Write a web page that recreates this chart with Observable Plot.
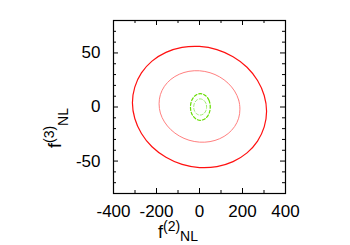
<!DOCTYPE html>
<html><head><meta charset="utf-8">
<script src="https://cdn.jsdelivr.net/npm/d3@7"></script>
<script src="https://cdn.jsdelivr.net/npm/@observablehq/plot@0.6"></script>
<style>body{margin:0;background:#fff;}</style>
</head><body><div id="chart"></div>
<script>
// Contour points (x = f(2)_NL, y = f(3)_NL)
const outerRedX = [312, 301, 270, 221, 156, 81, 0, -81, -156, -221, -270, -301, -312, -301, -270, -221, -156, -81, 0, 81, 156, 221, 270, 301];
const outerRedY = [-4, 10.6, 24.5, 36.8, 46.5, 53.1, 56, 55.1, 50.5, 42.4, 31.5, 18.4, 4, -10.6, -24.5, -36.8, -46.5, -53.1, -56, -55.1, -50.5, -42.4, -31.5, -18.4];
const innerRedX = [188, 182, 163, 133, 94, 49, 0, -49, -94, -133, -163, -182, -188, -182, -163, -133, -94, -49, 0, 49, 94, 133, 163, 182];
const innerRedY = [-2, 6.6, 14.8, 22, 27.8, 31.7, 33.5, 33, 30.3, 25.6, 19.2, 11.4, 3, -5.6, -13.8, -21, -26.8, -30.7, -32.5, -32, -29.3, -24.6, -18.2, -10.4];
const outerGreenX = [50, 44, 27, 4, -19, -36, -42, -36, -19, 4, 27, 44];
const outerGreenY = [0, 6.2, 10.7, 12.3, 10.7, 6.2, 0, -6.2, -10.7, -12.3, -10.7, -6.2];
const innerGreenX = [33, 29, 18, 3, -12, -23, -27, -23, -12, 3, 18, 29];
const innerGreenY = [0, 3.75, 6.5, 7.5, 6.5, 3.75, 0, -3.75, -6.5, -7.5, -6.5, -3.75];

const xTickLabels = [-400, -200, 0, 200, 400];
const xMinorTicks = [-300, -100, 100, 300];
const yTickLabels = [-50, 0, 50];
const yMinorTicks = [-70, -60, -40, -30, -20, -10, 10, 20, 30, 40, 60, 70];

const toRows = (xs, ys) => xs.map((x, i) => ({x, y: ys[i]}));

const W = 350, H = 245;
const mL = 113, mR = 65, mT = 20, mB = 52;
const innerW = W - mL - mR, innerH = H - mT - mB;
const majorLen = 5, minorLen = 3;

const contour = (xs, ys, opts) => Plot.line(toRows(xs, ys), {x: "x", y: "y", curve: "catmull-rom-closed", ...opts});

const plot = Plot.plot({
  width: W, height: H,
  marginLeft: mL, marginRight: mR, marginTop: mT, marginBottom: mB,
  x: {domain: [-400, 400]},
  y: {domain: [-80, 80]},
  style: {fontFamily: "'Liberation Sans', Arial, sans-serif", background: "white", color: "black"},
  marks: [
    contour(outerRedX, outerRedY, {stroke: "#ff1010", strokeWidth: 1.2}),
    contour(innerRedX, innerRedY, {stroke: "#ff8080", strokeWidth: 1}),
    contour(outerGreenX, outerGreenY, {stroke: "#66dd00", strokeWidth: 1.2, strokeDasharray: "3,2"}),
    contour(innerGreenX, innerGreenY, {stroke: "#a0ee70", strokeWidth: 1, strokeDasharray: "3,2"}),
    // inward ticks on all four sides
    Plot.ruleX(xTickLabels, {x: d => d, insetTop: innerH - majorLen, stroke: "black"}),
    Plot.ruleX(xTickLabels, {x: d => d, insetBottom: innerH - majorLen, stroke: "black"}),
    Plot.ruleX(xMinorTicks, {x: d => d, insetTop: innerH - minorLen, stroke: "black"}),
    Plot.ruleX(xMinorTicks, {x: d => d, insetBottom: innerH - minorLen, stroke: "black"}),
    Plot.ruleY(yTickLabels, {y: d => d, insetRight: innerW - majorLen, stroke: "black"}),
    Plot.ruleY(yTickLabels, {y: d => d, insetLeft: innerW - majorLen, stroke: "black"}),
    Plot.ruleY(yMinorTicks, {y: d => d, insetRight: innerW - minorLen, stroke: "black"}),
    Plot.ruleY(yMinorTicks, {y: d => d, insetLeft: innerW - minorLen, stroke: "black"}),
    Plot.axisX(xTickLabels, {anchor: "bottom", tickSize: 0, tickPadding: 11, fontSize: 17, tickFormat: d => String(d), label: null}),
    Plot.axisY(yTickLabels, {anchor: "left", tickSize: 0, tickPadding: 13, fontSize: 17, tickFormat: d => String(d), label: null}),
    Plot.frame({stroke: "black", strokeWidth: 1.2})
  ]
});

const svg = d3.select(plot);
function addTitle(g, sup, subDy) {
  const t = g.append("text").attr("fill", "black")
    .style("font-family", "'Liberation Sans', Arial, sans-serif");
  t.append("tspan").attr("font-size", 18).text("f");
  t.append("tspan").attr("font-size", 14).attr("dy", -7).text("(" + sup + ")");
  t.append("tspan").attr("font-size", 14).attr("dy", subDy).text("NL");
}
addTitle(svg.append("g").attr("transform", "translate(178,238)"), "2", 10);
addTitle(svg.append("g").attr("transform", "translate(61,128) rotate(-90)"), "3", 14);

document.getElementById("chart").appendChild(plot);
</script>
</body></html>
